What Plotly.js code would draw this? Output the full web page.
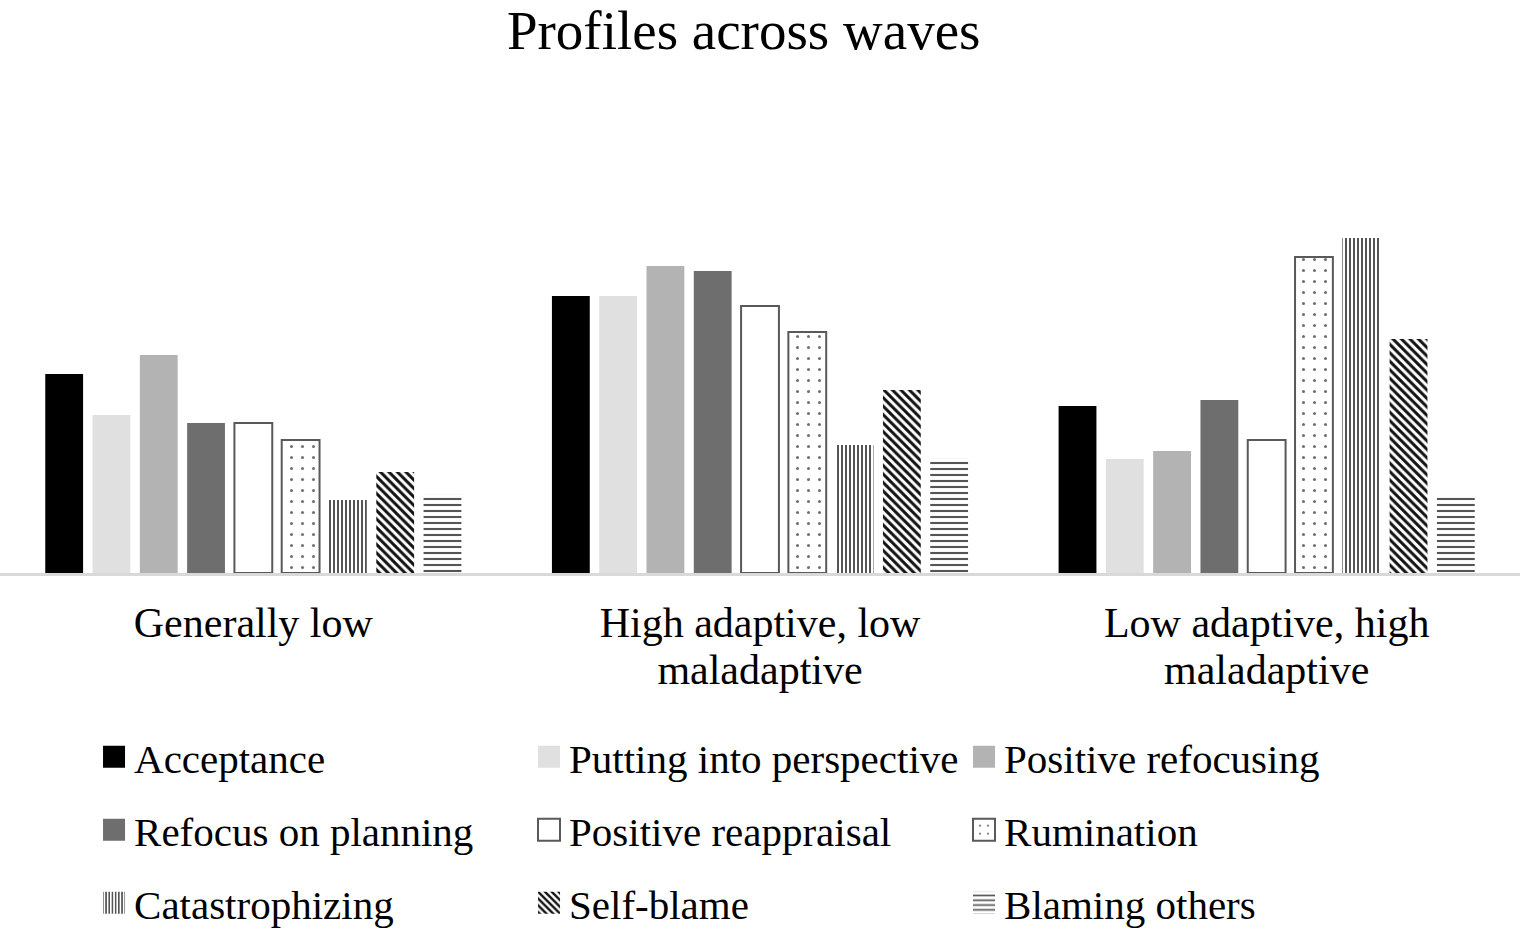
<!DOCTYPE html>
<html><head><meta charset="utf-8">
<script src="https://cdn.plot.ly/plotly-3.0.1.min.js"></script>
<style>html,body{margin:0;padding:0;background:#fff}#chart{width:1524px;height:929px}</style>
</head><body><div id="chart"></div>
<script>
const categories = ["Generally low", "High adaptive, low<br>maladaptive", "Low adaptive, high<br>maladaptive"];
const strategies = ["Acceptance", "Putting into perspective", "Positive refocusing",
  "Refocus on planning", "Positive reappraisal", "Rumination",
  "Catastrophizing", "Self-blame", "Blaming others"];
const acceptance = [1.99, 2.77, 1.67];
const puttingIntoPerspective = [1.58, 2.77, 1.14];
const positiveRefocusing = [2.18, 3.07, 1.22];
const refocusOnPlanning = [1.50, 3.02, 1.73];
const positiveReappraisal = [1.50, 2.67, 1.33];
const rumination = [1.33, 2.41, 3.16];
const catastrophizing = [0.73, 1.28, 3.35];
const selfBlame = [1.01, 1.83, 2.34];
const blamingOthers = [0.79, 1.15, 0.76];

const seriesValues = [acceptance, puttingIntoPerspective, positiveRefocusing, refocusOnPlanning,
  positiveReappraisal, rumination, catastrophizing, selfBlame, blamingOthers];

const styles = [
  {color:"#000000", line:{width:0}},
  {color:"#e0e0e0", line:{width:0}},
  {color:"#b3b3b3", line:{width:0}},
  {color:"#6e6e6e", line:{width:0}},
  {color:"#ffffff", line:{width:2, color:"#595959"}},
  {color:"#ffffff", line:{width:2, color:"#595959"}, pattern:{shape:".", fgcolor:"#707070", bgcolor:"#ffffff", size:11, solidity:0.06, fillmode:"replace"}},
  {color:"#ffffff", line:{width:0}, pattern:{shape:"|", fgcolor:"#555555", bgcolor:"#ffffff", size:4, solidity:0.5, fillmode:"replace"}},
  {color:"#ffffff", line:{width:0}, pattern:{shape:"\\", fgcolor:"#111111", bgcolor:"#ffffff", size:6, solidity:0.5, fillmode:"replace"}},
  {color:"#ffffff", line:{width:0}, pattern:{shape:"-", fgcolor:"#555555", bgcolor:"#ffffff", size:6, solidity:0.35, fillmode:"replace"}}
];
const legendIds = ["legend","legend","legend","legend2","legend2","legend2","legend3","legend3","legend3"];

const traces = strategies.map((name, i) => ({
  type: "bar", name: name, x: categories, y: seriesValues[i],
  marker: styles[i], legend: legendIds[i], hoverinfo: "name+y"
}));

const F = "Liberation Serif, Times New Roman, serif";
const legendBase = {orientation:"h", entrywidth:390, entrywidthmode:"pixels",
  xref:"container", yref:"container", xanchor:"left", yanchor:"middle",
  x:0.0617, font:{family:F, size:41, color:"#000"}, bgcolor:"rgba(0,0,0,0)",
  itemclick:false, traceorder:"normal"};

const layout = {
  width:1524, height:929,
  margin:{l:0, r:4, t:100, b:356, autoexpand:false},
  paper_bgcolor:"#ffffff", plot_bgcolor:"#ffffff",
  title:{text:"Profiles across waves", x:0.488, xanchor:"center", y:0.968, yanchor:"middle",
    font:{family:F, size:55, color:"#000"}},
  barmode:"group", bargap:0.16, bargroupgap:0.2,
  xaxis:{showline:true, linecolor:"#d9d9d9", linewidth:3, ticks:"", showgrid:false,
    tickfont:{family:F, size:42, color:"#000"}, ticklabelstandoff:11, range:[-0.5,2.5]},
  yaxis:{visible:false, range:[0,4.73], showgrid:false, zeroline:false},
  showlegend:true,
  legend:Object.assign({}, legendBase, {y:1-757/929}),
  legend2:Object.assign({}, legendBase, {y:1-830/929}),
  legend3:Object.assign({}, legendBase, {y:1-903/929})
};

Plotly.newPlot("chart", traces, layout, {displayModeBar:false, staticPlot:true}).then(() => {
  document.querySelectorAll(".legendpoints path").forEach(p => {
    p.setAttribute("d", "M11,11H-11V-11H11Z");
  });
  document.querySelectorAll(".xtick text tspan.line").forEach((t) => {
    if (t.getAttribute("dy") && t.previousElementSibling) t.setAttribute("dy", "1.12em");
  });
});
</script>
</body></html>
